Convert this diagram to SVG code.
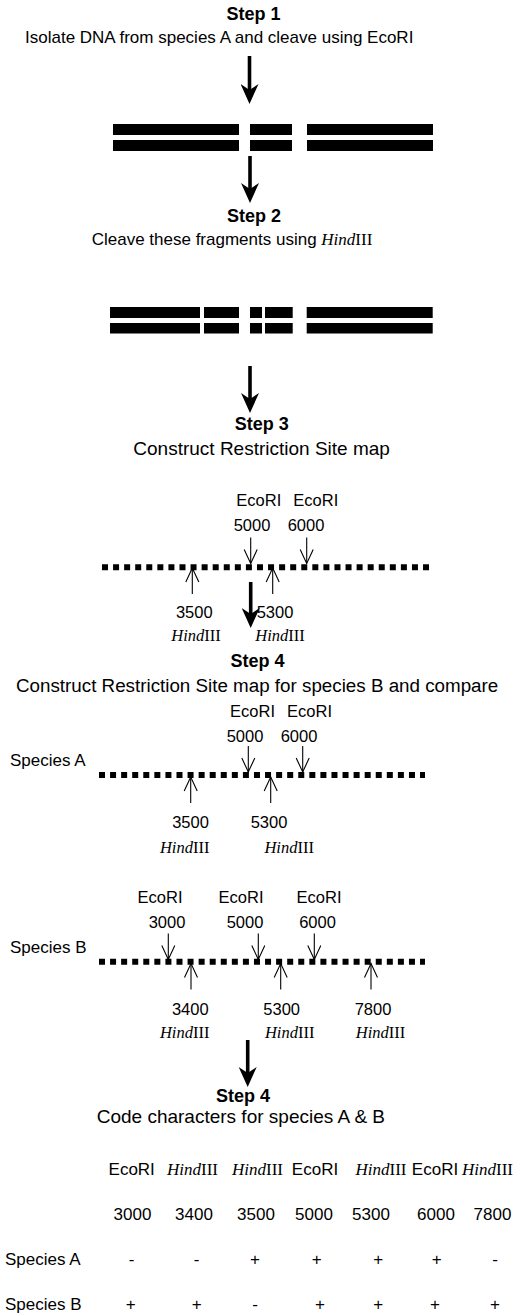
<svg xmlns="http://www.w3.org/2000/svg" xmlns:xlink="http://www.w3.org/1999/xlink" width="526" height="1316" viewBox="0 0 526 1316">
<style>
text{font-family:"Liberation Sans",Arial,sans-serif;fill:#000}
.step{font-weight:bold;font-size:18px;text-anchor:middle}
.d17{font-size:17px}
.d19{font-size:19px}
.lb{font-size:16.5px;text-anchor:middle}
.tb{font-size:17px;text-anchor:middle}
.sp{font-size:17px}
.hd{font-family:"Liberation Serif","Times New Roman",serif}
.it{font-style:italic}
.big{stroke:#000;stroke-width:3.6;fill:none}
.dots{stroke:#000;stroke-width:6;stroke-dasharray:6 5.07;fill:none}
.thin{stroke:#000;stroke-width:1.1;fill:none}
.bar{fill:#000}
</style>
<defs>
<marker id="ah" viewBox="0 0 20 18" refX="8" refY="9" markerWidth="20" markerHeight="18" markerUnits="userSpaceOnUse" orient="auto">
<path d="M0,0 L20,9 L0,18 L6,9 Z" fill="#000"/>
</marker>
<g id="dn"><line class="thin" x1="0" y1="-26" x2="0" y2="0"/><polyline class="thin" points="-6.5,-14 0,0 6.5,-14"/></g>
<g id="up"><line class="thin" x1="0" y1="26" x2="0" y2="0"/><polyline class="thin" points="-6.5,14 0,0 6.5,14"/></g>
</defs>

<g id="step1">
<text class="step" x="253.5" y="20">Step 1</text>
<text class="d17" x="25" y="43">Isolate DNA from species A and cleave using EcoRI</text>
</g>

<g id="fragments1">
<rect class="bar" x="113" y="124" width="126" height="11"/>
<rect class="bar" x="113" y="140" width="126" height="11"/>
<rect class="bar" x="250" y="124" width="42" height="11"/>
<rect class="bar" x="250" y="140" width="42" height="11"/>
<rect class="bar" x="307" y="124" width="126" height="11"/>
<rect class="bar" x="307" y="140" width="126" height="11"/>
</g>

<g id="step2">
<text class="step" x="254" y="221.7">Step 2</text>
<text class="d17" x="91.7" y="245">Cleave these fragments using <tspan class="hd it">Hind</tspan><tspan class="hd">III</tspan></text>
</g>

<g id="fragments2">
<rect class="bar" x="110" y="307" width="90" height="11"/>
<rect class="bar" x="110" y="323" width="90" height="10.5"/>
<rect class="bar" x="204" y="307" width="35" height="11"/>
<rect class="bar" x="204" y="323" width="35" height="10.5"/>
<rect class="bar" x="250" y="307" width="12" height="11"/>
<rect class="bar" x="250" y="323" width="12" height="10.5"/>
<rect class="bar" x="265" y="307" width="27.7" height="11"/>
<rect class="bar" x="265" y="323" width="27.7" height="10.5"/>
<rect class="bar" x="306.7" y="307" width="126" height="11"/>
<rect class="bar" x="306.7" y="323" width="126" height="10.5"/>
</g>

<g id="step3">
<text class="step" x="261.7" y="430">Step 3</text>
<text class="d19" x="133.3" y="455">Construct Restriction Site map</text>
</g>

<g id="map3">
<text class="lb" x="258.8" y="506">EcoRI</text>
<text class="lb" x="315.8" y="506">EcoRI</text>
<text class="lb" x="252" y="531">5000</text>
<text class="lb" x="306" y="531">6000</text>
<use xlink:href="#dn" x="250.7" y="563.5"/>
<use xlink:href="#dn" x="306.7" y="563.5"/>
<line class="dots" x1="102" y1="567.3" x2="430" y2="567.3"/>
<use xlink:href="#up" x="192.3" y="568"/>
<use xlink:href="#up" x="272.7" y="568"/>
<text class="lb" x="194.3" y="618">3500</text>
<text class="lb" x="275" y="618">5300</text>
<text class="lb hd" x="196" y="640.5"><tspan class="it">Hind</tspan>III</text>
<text class="lb hd" x="280" y="640.5"><tspan class="it">Hind</tspan>III</text>
</g>

<g id="step4">
<text class="step" x="257.5" y="666.7">Step 4</text>
<text class="d19" x="16" y="691.7" style="font-size:18.8px">Construct Restriction Site map for species B and compare</text>
</g>

<g id="mapA">
<text class="lb" x="252.5" y="716.7">EcoRI</text>
<text class="lb" x="309.5" y="716.7">EcoRI</text>
<text class="lb" x="245" y="741.7">5000</text>
<text class="lb" x="299" y="741.7">6000</text>
<text class="sp" x="10" y="765.7">Species A</text>
<use xlink:href="#dn" x="248.3" y="772"/>
<use xlink:href="#dn" x="302.7" y="772"/>
<line class="dots" x1="99" y1="775" x2="425" y2="775"/>
<use xlink:href="#up" x="190.7" y="777"/>
<use xlink:href="#up" x="270.7" y="777"/>
<text class="lb" x="190.5" y="828.3">3500</text>
<text class="lb" x="269" y="828.3">5300</text>
<text class="lb hd" x="184.7" y="853"><tspan class="it">Hind</tspan>III</text>
<text class="lb hd" x="289.2" y="853"><tspan class="it">Hind</tspan>III</text>
</g>

<g id="mapB">
<text class="lb" x="160" y="902.7">EcoRI</text>
<text class="lb" x="241" y="902.7">EcoRI</text>
<text class="lb" x="319" y="902.7">EcoRI</text>
<text class="lb" x="167" y="928.3">3000</text>
<text class="lb" x="245" y="928.3">5000</text>
<text class="lb" x="317.5" y="928.3">6000</text>
<text class="sp" x="10" y="952.7">Species B</text>
<use xlink:href="#dn" x="168.3" y="959.5"/>
<use xlink:href="#dn" x="258.3" y="959.5"/>
<use xlink:href="#dn" x="314.3" y="959.5"/>
<line class="dots" x1="99" y1="961.7" x2="425" y2="961.7"/>
<use xlink:href="#up" x="191" y="963.5"/>
<use xlink:href="#up" x="280.7" y="963.5"/>
<use xlink:href="#up" x="371" y="963.5"/>
<text class="lb" x="190.3" y="1015">3400</text>
<text class="lb" x="281.7" y="1015">5300</text>
<text class="lb" x="373" y="1015">7800</text>
<text class="lb hd" x="184.7" y="1038.3"><tspan class="it">Hind</tspan>III</text>
<text class="lb hd" x="289.7" y="1038.3"><tspan class="it">Hind</tspan>III</text>
<text class="lb hd" x="380.5" y="1038.3"><tspan class="it">Hind</tspan>III</text>
</g>

<g id="step4b">
<text class="step" x="243" y="1101.7">Step 4</text>
<text class="d19" x="96.7" y="1123.3">Code characters for species A &amp; B</text>
</g>

<g id="table">
<text class="tb" x="131.7" y="1175">EcoRI</text>
<text class="tb hd" x="192.5" y="1175"><tspan class="it">Hind</tspan>III</text>
<text class="tb hd" x="257.5" y="1175"><tspan class="it">Hind</tspan>III</text>
<text class="tb" x="315" y="1175">EcoRI</text>
<text class="tb hd" x="381" y="1175"><tspan class="it">Hind</tspan>III</text>
<text class="tb" x="435" y="1175">EcoRI</text>
<text class="tb hd" x="487.5" y="1175"><tspan class="it">Hind</tspan>III</text>
<text class="tb" x="132.5" y="1220">3000</text>
<text class="tb" x="194" y="1220">3400</text>
<text class="tb" x="256" y="1220">3500</text>
<text class="tb" x="314" y="1220">5000</text>
<text class="tb" x="371" y="1220">5300</text>
<text class="tb" x="436" y="1220">6000</text>
<text class="tb" x="492.5" y="1220">7800</text>
<text class="sp" x="5" y="1265">Species A</text>
<text class="tb" x="131.7" y="1265">-</text>
<text class="tb" x="196.7" y="1265">-</text>
<text class="tb" x="255" y="1265">+</text>
<text class="tb" x="316.7" y="1265">+</text>
<text class="tb" x="378.3" y="1265">+</text>
<text class="tb" x="436.7" y="1265">+</text>
<text class="tb" x="495" y="1265">-</text>
<text class="sp" x="5" y="1310">Species B</text>
<text class="tb" x="130.7" y="1310">+</text>
<text class="tb" x="196.7" y="1310">+</text>
<text class="tb" x="255" y="1310">-</text>
<text class="tb" x="320" y="1310">+</text>
<text class="tb" x="378.3" y="1310">+</text>
<text class="tb" x="435" y="1310">+</text>
<text class="tb" x="495" y="1310">+</text>
</g>

<g id="connectors">
<line class="big" x1="249.5" y1="56" x2="249.5" y2="92" marker-end="url(#ah)"/>
<line class="big" x1="250" y1="156" x2="250" y2="191" marker-end="url(#ah)"/>
<line class="big" x1="250" y1="366" x2="250" y2="401" marker-end="url(#ah)"/>
<line class="big" x1="250.7" y1="582" x2="250.7" y2="616" marker-end="url(#ah)"/>
<line class="big" x1="247.7" y1="1040" x2="247.7" y2="1075" marker-end="url(#ah)"/>
</g>
</svg>
